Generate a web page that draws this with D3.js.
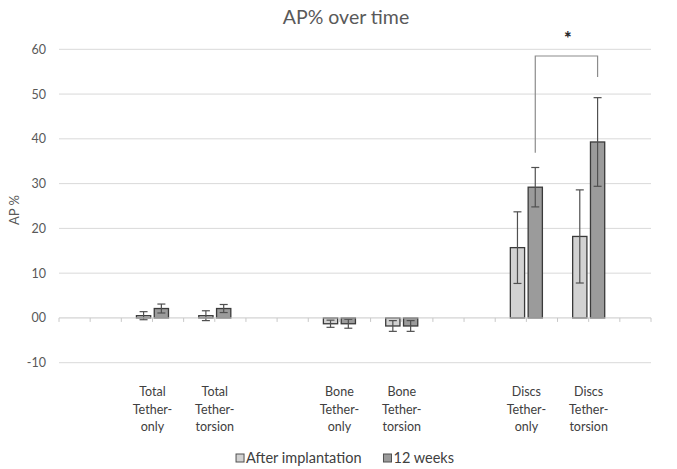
<!DOCTYPE html>
<html>
<head>
<meta charset="utf-8">
<script src="https://cdn.jsdelivr.net/npm/d3@7"></script>
<style>
  html, body { margin: 0; padding: 0; background: #ffffff; }
  svg { display: block; font-family: Lato, "Open Sans", sans-serif; }
</style>
</head>
<body>
<svg id="chart" width="677" height="469"></svg>
<script>
// AP% per group, measured right after implantation and at 12 weeks
const categories = [
  "Total Tether-only", "Total Tether-torsion",
  "Bone Tether-only", "Bone Tether-torsion",
  "Discs Tether-only", "Discs Tether-torsion"
];
const seriesNames = ["After implantation", "12 weeks"];
const afterImplantation    = [0.5, 0.5, -1.3, -1.8, 15.7, 18.2];
const afterImplantationErr = [0.9, 1.1, 0.8, 1.2, 8.0, 10.4];
const twelveWeeks          = [2.1, 2.1, -1.3, -1.8, 29.2, 39.3];
const twelveWeeksErr       = [1.0, 0.9, 1.0, 1.2, 4.4, 9.9];

const yTicks = [-10, 0, 10, 20, 30, 40, 50, 60];
const yTickLabels = ["-10", "00", "10", "20", "30", "40", "50", "60"];

// significance bracket between the two disc groups at 12 weeks
const sigGroups = ["Discs Tether-only", "Discs Tether-torsion"];
const sigSeries = "12 weeks";
const sigLevels = [36.9, 58.5, 53.8]; // left foot, top, right foot
const sigLabel = "*";

const plot = { left: 59, right: 651, top: 49.3, bottom: 362.7 };
const colors = { "After implantation": "#d2d2d2", "12 weeks": "#9b9b9b" };

const svg = d3.select("#chart");

// groups are laid out with empty spacer bands between the three blocks
const domain = ["_s1", categories[0], categories[1], "_s2", categories[2], categories[3],
                "_s3", categories[4], categories[5]];
const x = d3.scaleBand().domain(domain).range([plot.left, plot.right])
  .paddingInner(0).paddingOuter(0.25).align(0);
const xs = d3.scaleBand().domain(seriesNames).range([0, x.bandwidth()])
  .paddingInner(0.2).paddingOuter(0.85);
const y = d3.scaleLinear().domain([-10, 60]).range([plot.bottom, plot.top]);

// gridlines
svg.append("g").selectAll("line")
  .data(yTicks.filter(d => d !== 0))
  .join("line")
  .attr("x1", plot.left).attr("x2", plot.right)
  .attr("y1", d => y(d)).attr("y2", d => y(d))
  .attr("stroke", "#d9d9d9").attr("stroke-width", 1);

// y axis labels
const yAxis = d3.axisLeft(y).tickValues(yTicks)
  .tickFormat(d => yTickLabels[yTicks.indexOf(d)])
  .tickSize(0).tickPadding(13);
const yg = svg.append("g").attr("transform", `translate(${plot.left},0)`).call(yAxis);
yg.select(".domain").remove();
yg.selectAll("text").attr("fill", "#595959").style("font-size", "12.5px")
  .style("font-family", "Lato, sans-serif");

// y axis title
svg.append("text")
  .attr("transform", `translate(19,${(plot.top + plot.bottom) / 2 + 4}) rotate(-90)`)
  .attr("text-anchor", "middle").attr("fill", "#595959")
  .style("font-size", "13px").text("AP %");

// chart title
svg.append("text")
  .attr("x", 346).attr("y", 24).attr("text-anchor", "middle")
  .attr("fill", "#595959").style("font-size", "19.5px").text("AP% over time");

// bars
const rows = categories.map((c, i) => ({
  cat: c,
  vals: [
    { s: seriesNames[0], v: afterImplantation[i], e: afterImplantationErr[i] },
    { s: seriesNames[1], v: twelveWeeks[i], e: twelveWeeksErr[i] }
  ]
}));

const grp = svg.append("g").selectAll("g")
  .data(rows).join("g")
  .attr("transform", d => `translate(${x(d.cat)},0)`);

grp.selectAll("rect").data(d => d.vals).join("rect")
  .attr("x", d => xs(d.s))
  .attr("width", xs.bandwidth())
  .attr("y", d => y(Math.max(0, d.v)))
  .attr("height", d => Math.abs(y(d.v) - y(0)))
  .attr("fill", d => colors[d.s])
  .attr("stroke", "#3a3a3a").attr("stroke-width", 1.3);

// zero axis line with category ticks
const half = x.step() / 2;
const tickPos = d3.range(0, 20).map(i => plot.left + i * half);
const axisG = svg.append("g");
axisG.append("line")
  .attr("x1", plot.left).attr("x2", plot.right)
  .attr("y1", y(0)).attr("y2", y(0))
  .attr("stroke", "#c8c8c8").attr("stroke-width", 1);
axisG.selectAll("line.tk").data(tickPos).join("line").attr("class", "tk")
  .attr("x1", d => d).attr("x2", d => d)
  .attr("y1", y(0)).attr("y2", y(0) + 4)
  .attr("stroke", "#c8c8c8").attr("stroke-width", 1);

// error bars
const cap = 4;
const eb = grp.selectAll("g.err").data(d => d.vals).join("g").attr("class", "err")
  .attr("stroke", "#505050").attr("stroke-width", 1.2);
const cx = d => xs(d.s) + xs.bandwidth() / 2;
eb.append("line")
  .attr("x1", cx).attr("x2", cx)
  .attr("y1", d => y(d.v + d.e)).attr("y2", d => y(d.v - d.e));
eb.append("line")
  .attr("x1", d => cx(d) - cap).attr("x2", d => cx(d) + cap)
  .attr("y1", d => y(d.v + d.e)).attr("y2", d => y(d.v + d.e));
eb.append("line")
  .attr("x1", d => cx(d) - cap).attr("x2", d => cx(d) + cap)
  .attr("y1", d => y(d.v - d.e)).attr("y2", d => y(d.v - d.e));

// category labels, three lines each
const lab = svg.append("g").selectAll("text")
  .data(categories).join("text")
  .attr("x", d => x(d) + x.bandwidth() / 2)
  .attr("y", 396)
  .attr("text-anchor", "middle")
  .attr("fill", "#404040").style("font-size", "12.5px");
lab.each(function (d) {
  const [first, rest] = d.split(" ");
  const cut = rest.indexOf("-") + 1;
  const lines = [first, rest.slice(0, cut), rest.slice(cut)];
  d3.select(this).selectAll("tspan").data(lines).join("tspan")
    .attr("x", x(d) + x.bandwidth() / 2)
    .attr("dy", (t, i) => i === 0 ? 0 : 17.5)
    .text(t => t);
});

// significance bracket
const bx = g => x(g) + xs(sigSeries) + xs.bandwidth() / 2;
const bx1 = bx(sigGroups[0]), bx2 = bx(sigGroups[1]);
svg.append("path")
  .attr("d", d3.line()([[bx1, y(sigLevels[0])], [bx1, y(sigLevels[1])],
                         [bx2, y(sigLevels[1])], [bx2, y(sigLevels[2])]]))
  .attr("fill", "none").attr("stroke", "#8c8c8c").attr("stroke-width", 1.2);
svg.append("text")
  .attr("x", (bx1 + bx2) / 2 + 1.5).attr("y", 45)
  .attr("text-anchor", "middle").attr("fill", "#2a2a2a")
  .style("font-size", "18px").style("font-weight", "900").text(sigLabel);

// legend
const leg = svg.append("g").attr("transform", "translate(0,458)");
const items = leg.selectAll("g").data(seriesNames).join("g");
items.append("rect").attr("width", 8).attr("height", 8).attr("y", -4)
  .attr("fill", d => colors[d]).attr("stroke", "#505050").attr("stroke-width", 1);
items.append("text").attr("x", 10).attr("y", 5)
  .attr("fill", "#404040").style("font-size", "14.5px").text(d => d);
const widths = [];
items.each(function () { widths.push(this.getBBox().width); });
const gap = 22;
const total = d3.sum(widths) + gap * (widths.length - 1);
let lx = 345 - total / 2;
items.attr("transform", (d, i) => {
  const t = `translate(${lx},0)`;
  lx += widths[i] + gap;
  return t;
});
</script>
</body>
</html>
